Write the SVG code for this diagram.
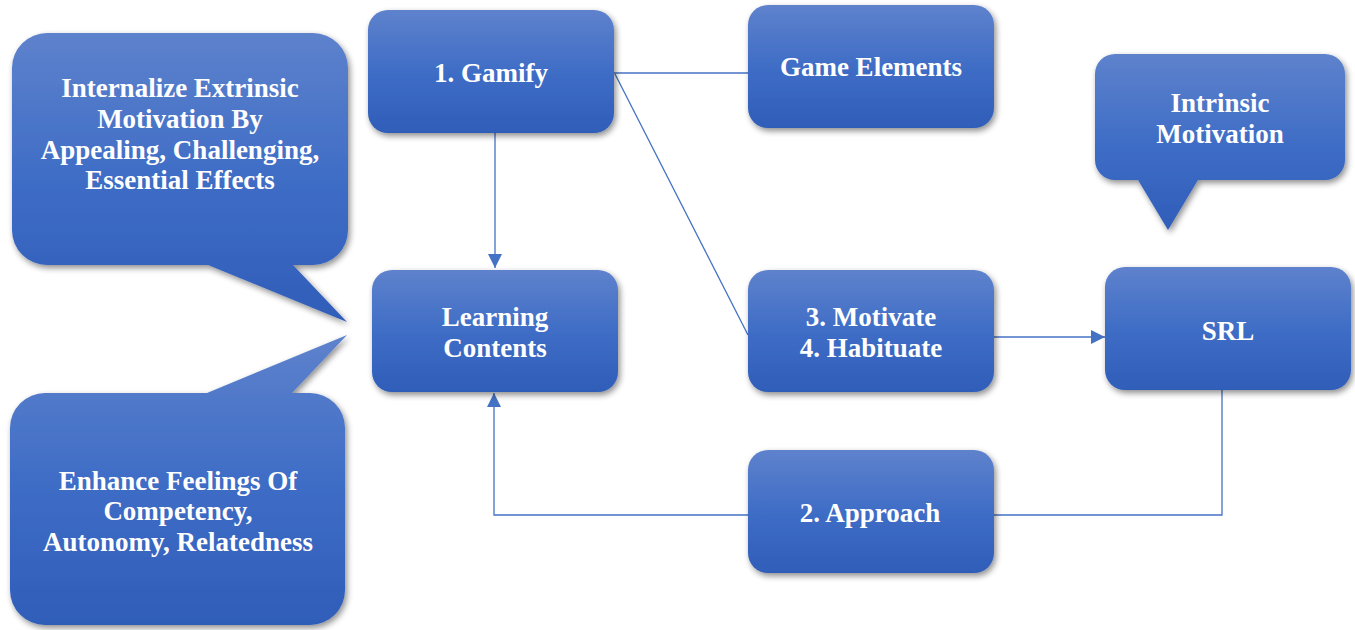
<svg xmlns="http://www.w3.org/2000/svg" width="1355" height="630" viewBox="0 0 1355 630">
<defs>
<linearGradient id="g" x1="0" y1="0" x2="0" y2="1">
<stop offset="0" stop-color="#5E82CC"/>
<stop offset="0.5" stop-color="#3F6DC6"/>
<stop offset="1" stop-color="#2F5DB8"/>
</linearGradient>
<filter id="sh" x="-10%" y="-10%" width="125%" height="130%">
<feGaussianBlur in="SourceAlpha" stdDeviation="3"/>
<feOffset dx="2" dy="3" result="b"/>
<feComponentTransfer><feFuncA type="linear" slope="0.45"/></feComponentTransfer>
<feMerge><feMergeNode/><feMergeNode in="SourceGraphic"/></feMerge>
</filter>
<marker id="ar" viewBox="0 0 10 10" refX="10" refY="5" markerWidth="14" markerHeight="14" markerUnits="userSpaceOnUse" orient="auto">
<path d="M0,0 L10,5 L0,10 Z" fill="#4472C4"/>
</marker>
</defs>
<style>
.n{fill:url(#g);filter:url(#sh)}
.t{font-family:'Liberation Serif','Times New Roman',serif;font-weight:700;font-size:27px;fill:#fff;text-anchor:middle}
.c{fill:none;stroke:#4472C4;stroke-width:1.3}
</style>
<rect width="1355" height="630" fill="#fff"/>
<g id="connectors">
<line class="c" x1="614" y1="73" x2="748" y2="73"/>
<line class="c" x1="615" y1="74" x2="748" y2="335"/>
<line class="c" x1="495" y1="133" x2="495" y2="268" marker-end="url(#ar)"/>
<line class="c" x1="994" y1="337" x2="1105" y2="337" marker-end="url(#ar)"/>
<polyline class="c" points="1222,390 1222,515 994,515"/>
<polyline class="c" points="748,515 494,515 494,393" marker-end="url(#ar)"/>
</g>
<g id="callout-internalize">
<path class="n" d="M47,33 H313 A35,35 0 0 1 348,68 V230 A35,35 0 0 1 313,265 H293 L347,322 L208,265 H47 A35,35 0 0 1 12,230 V68 A35,35 0 0 1 47,33 Z"/>
<text class="t"><tspan x="180" y="97">Internalize Extrinsic</tspan><tspan x="180" y="128">Motivation By</tspan><tspan x="180" y="159">Appealing, Challenging,</tspan><tspan x="180" y="189">Essential Effects</tspan></text>
</g>
<g id="callout-enhance">
<path class="n" d="M45,393 H207 L347,335 L292,393 H310 A35,35 0 0 1 345,428 V590 A35,35 0 0 1 310,625 H45 A35,35 0 0 1 10,590 V428 A35,35 0 0 1 45,393 Z"/>
<text class="t"><tspan x="178" y="490">Enhance Feelings Of</tspan><tspan x="178" y="520">Competency,</tspan><tspan x="178" y="551">Autonomy, Relatedness</tspan></text>
</g>
<g id="gamify">
<rect class="n" x="368" y="10" width="246" height="123" rx="20"/>
<text class="t" x="491" y="82">1. Gamify</text>
</g>
<g id="game-elements">
<rect class="n" x="748" y="5" width="246" height="123" rx="20"/>
<text class="t" x="871" y="76">Game Elements</text>
</g>
<g id="callout-intrinsic">
<path class="n" d="M1115,54 H1325 A20,20 0 0 1 1345,74 V160 A20,20 0 0 1 1325,180 H1198 L1168,230 L1138,180 H1115 A20,20 0 0 1 1095,160 V74 A20,20 0 0 1 1115,54 Z"/>
<text class="t"><tspan x="1220" y="112">Intrinsic</tspan><tspan x="1220" y="143">Motivation</tspan></text>
</g>
<g id="learning-contents">
<rect class="n" x="372" y="270" width="246" height="122" rx="20"/>
<text class="t"><tspan x="495" y="326">Learning</tspan><tspan x="495" y="357">Contents</tspan></text>
</g>
<g id="motivate">
<rect class="n" x="748" y="270" width="246" height="122" rx="20"/>
<text class="t"><tspan x="871" y="326">3. Motivate</tspan><tspan x="871" y="357">4. Habituate</tspan></text>
</g>
<g id="srl">
<rect class="n" x="1105" y="267" width="246" height="123" rx="20"/>
<text class="t" x="1228" y="340">SRL</text>
</g>
<g id="approach">
<rect class="n" x="748" y="450" width="246" height="123" rx="20"/>
<text class="t" x="870" y="522">2. Approach</text>
</g>
</svg>
